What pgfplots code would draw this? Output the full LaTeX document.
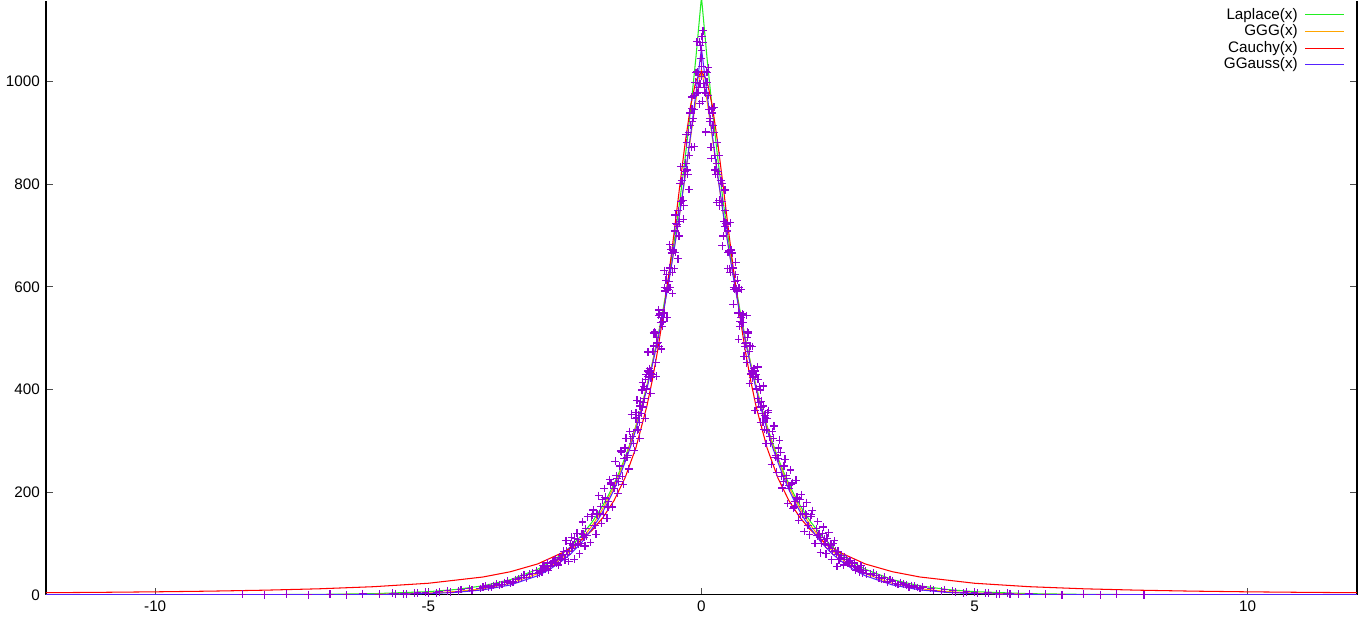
\documentclass[border=0pt]{standalone}
\usepackage{fontspec}
\setmainfont{Liberation Sans}
\usepackage{pgfplots}
\usepackage{pgfplotstable}
\pgfplotsset{compat=1.18}
\definecolor{gpviolet}{HTML}{9400D3}
\definecolor{gpgreen}{HTML}{22EE22}
\definecolor{gporange}{HTML}{FFA500}
\definecolor{gpred}{HTML}{FF0000}
\definecolor{gpblue}{HTML}{5522FF}

% histogram counts (scatter)
\pgfplotstableread{
x y
0.00 1060
0.05 979
0.10 999
0.15 922
0.20 939
0.25 828
0.30 819
0.35 807
0.40 699
0.45 724
0.50 670
0.55 673
0.60 595
0.65 592
0.70 523
0.75 547
0.80 489
0.85 512
0.90 431
0.95 433
1.00 429
1.05 374
1.10 377
1.15 322
1.20 343
1.25 308
1.30 318
1.35 268
1.40 266
1.45 277
1.50 220
1.55 232
1.60 213
1.65 216
1.70 171
1.75 190
1.80 185
1.85 158
1.90 158
1.95 135
2.00 152
-0.05 989
-0.10 1018
-0.15 928
-0.20 915
-0.25 819
-0.30 825
-0.35 807
-0.40 727
-0.45 721
-0.50 636
-0.55 666
-0.60 610
-0.65 613
-0.70 533
-0.75 531
-0.80 491
-0.85 510
-0.90 429
-0.95 441
-1.00 401
-1.05 406
-1.10 354
-1.15 350
-1.20 355
-1.25 295
-1.30 305
-1.35 271
-1.40 286
-1.45 231
-1.50 251
-1.55 226
-1.60 207
-1.65 219
-1.70 181
-1.75 187
-1.80 156
-1.85 172
-1.90 156
-1.95 135
-2.00 156
0.025 1077
0.075 978
0.125 973
0.175 872
0.225 901
0.275 841
0.325 769
0.375 802
0.425 717
0.475 709
0.525 628
0.575 637
0.625 624
0.675 549
0.725 540
0.775 545
0.825 452
0.875 474
0.925 436
0.975 436
1.025 382
1.075 399
1.125 336
1.175 345
-0.025 996
-0.075 1019
-0.125 945
-0.175 947
-0.225 856
-0.275 881
-0.325 758
-0.375 767
-0.425 749
-0.475 667
-0.525 672
-0.575 599
-0.625 597
-0.675 599
-0.725 531
-0.775 484
-0.825 502
-0.875 485
-0.925 423
-0.975 426
-1.025 420
-1.075 366
-1.125 368
-1.175 321
0.062 989
0.112 1018
0.162 928
0.212 915
0.262 819
0.312 825
0.362 807
0.412 727
0.462 721
0.512 636
0.562 666
0.612 610
0.662 613
0.712 533
0.762 531
0.812 491
0.862 510
0.912 429
0.962 441
1.012 401
1.062 406
1.112 354
1.162 350
1.212 355
1.262 295
1.312 305
1.362 271
1.412 286
1.462 231
1.512 251
1.562 226
1.612 207
1.662 219
1.712 181
1.762 187
1.812 156
1.862 172
1.912 156
1.962 135
2.012 156
-0.062 979
-0.112 999
-0.162 922
-0.212 939
-0.262 828
-0.312 819
-0.362 807
-0.412 699
-0.462 724
-0.512 670
-0.562 673
-0.612 595
-0.662 592
-0.712 523
-0.762 547
-0.812 489
-0.862 512
-0.912 431
-0.962 433
-1.012 429
-1.062 374
-1.112 377
-1.162 322
-1.212 343
-1.262 308
-1.312 318
-1.362 268
-1.412 266
-1.462 277
-1.512 220
-1.562 232
-1.612 213
-1.662 216
-1.712 171
-1.762 190
-1.812 185
-1.862 158
-1.912 158
-1.962 135
-2.012 152
0.037 996
0.087 1019
0.137 945
0.187 947
0.237 856
0.287 881
0.337 758
0.387 767
0.437 749
0.487 667
0.537 672
0.587 599
0.637 597
0.687 599
0.737 531
0.787 484
0.837 502
0.887 485
0.937 423
0.987 426
1.037 420
1.087 366
1.137 368
1.187 321
-0.037 1077
-0.087 978
-0.137 973
-0.187 872
-0.237 901
-0.287 841
-0.337 769
-0.387 802
-0.437 717
-0.487 709
-0.537 628
-0.587 637
-0.637 624
-0.687 549
-0.737 540
-0.787 545
-0.837 452
-0.887 474
-0.937 436
-0.987 436
-1.037 382
-1.087 399
-1.137 336
-1.187 345
0.03 1099
0.08 902
0.13 1027
0.18 850
0.23 950
0.28 765
0.33 856
0.38 680
0.43 789
0.48 636
0.53 725
0.58 566
0.63 648
0.68 498
0.73 595
0.78 465
0.83 544
0.88 412
0.93 484
0.98 359
1.03 444
1.08 336
1.13 407
1.18 295
1.23 359
1.28 254
1.33 329
1.38 239
1.43 301
1.48 208
1.53 264
1.58 178
1.63 243
1.68 168
1.73 223
1.78 145
1.83 195
1.88 123
1.93 180
1.98 117
2.03 164
2.08 100
2.13 143
2.18 82
2.23 132
2.28 80
2.33 121
2.38 68
2.43 105
2.48 55
-0.03 957
-0.08 1078
-0.13 873
-0.18 970
-0.23 790
-0.28 897
-0.33 732
-0.38 834
-0.43 655
-0.48 740
-0.53 587
-0.58 682
-0.63 540
-0.68 632
-0.73 479
-0.78 555
-0.83 426
-0.88 510
-0.93 392
-0.98 473
-1.03 344
-1.08 414
-1.13 305
-1.18 379
-1.23 281
-1.28 352
-1.33 245
-1.38 305
-1.43 215
-1.48 280
-1.53 198
-1.58 260
-1.63 171
-1.68 224
-1.73 149
-1.78 207
-1.83 139
-1.88 193
-1.93 118
-1.98 165
-2.03 102
-2.08 152
-2.13 95
-2.18 142
-2.23 80
-2.28 120
-2.33 69
-2.38 112
-2.43 65
-2.48 105
0.000 1010
0.010 1088
-0.010 1045
0.015 962
-0.015 1070
0.005 1030
2.10 129
2.15 118
2.20 100
2.25 108
2.30 110
2.35 90
2.40 85
2.45 86
2.50 85
2.55 71
2.60 58
2.65 69
2.70 64
2.75 56
2.80 62
2.85 54
2.90 45
2.95 43
3.00 47
-2.10 115
-2.15 112
-2.20 119
-2.25 99
-2.30 96
-2.35 97
-2.40 100
-2.45 79
-2.50 68
-2.55 77
-2.60 73
-2.65 62
-2.70 67
-2.75 61
-2.80 48
-2.85 50
-2.90 57
-2.95 48
-3.00 41
2.12 115
2.17 112
2.22 119
2.27 99
2.32 96
2.37 97
2.42 100
2.47 79
2.52 68
2.57 77
2.62 73
2.67 62
2.72 67
2.77 61
2.82 48
2.87 50
2.92 57
2.97 48
3.02 41
-2.12 129
-2.17 118
-2.22 100
-2.27 108
-2.32 110
-2.37 90
-2.42 85
-2.47 86
-2.52 85
-2.57 71
-2.62 58
-2.67 69
-2.72 64
-2.77 56
-2.82 62
-2.87 54
-2.92 45
-2.97 43
-3.02 47
3.1 40
3.2 38
3.3 31
3.4 25
3.5 27
3.6 20
3.7 21
3.8 15
3.9 17
4.0 12
4.2 12
4.4 7
4.6 8
4.8 4
5.0 5
5.2 3
5.4 2
5.6 3
5.8 1
6.0 2
6.3 1
6.6 0
7.0 1
7.3 0
7.6 1
8.1 0
-3.1 42
-3.2 33
-3.3 34
-3.4 30
-3.5 22
-3.6 24
-3.7 19
-3.8 18
-3.9 14
-4.0 15
-4.2 9
-4.4 10
-4.6 5
-4.8 6
-5.0 3
-5.2 4
-5.4 1
-5.6 2
-5.9 1
-6.2 2
-6.5 0
-6.8 1
-7.2 0
-7.6 1
-8.0 0
-8.4 1
3.15 42
3.25 33
3.35 34
3.45 30
3.55 22
3.65 24
3.75 19
3.85 18
3.95 14
4.05 15
4.25 9
4.45 10
4.65 5
4.85 6
5.05 3
5.25 4
5.45 1
5.65 2
-3.15 40
-3.25 38
-3.35 31
-3.45 25
-3.55 27
-3.65 20
-3.75 21
-3.85 15
-3.95 17
-4.05 12
-4.25 12
-4.45 7
-4.65 8
-4.85 4
-5.05 5
-5.25 3
-5.45 2
-5.65 3
}\histdata

\pgfplotstableread{
x y
-12 0.004
-10 0.03
-8 0.26
-7 0.74
-6 2.11
-5 6.04
-4.5 10.2
-4 17.3
-3.5 29.3
-3 49.6
-2.8 61.2
-2.6 75.5
-2.4 93.2
-2.2 115.0
-2.0 141.9
-1.9 157.7
-1.8 175.2
-1.7 194.6
-1.6 216.2
-1.5 240.2
-1.4 266.9
-1.3 296.5
-1.2 329.4
-1.1 366.0
-1.0 406.6
-0.9 451.7
-0.8 501.9
-0.7 557.6
-0.6 619.5
-0.5 688.2
-0.4 764.6
-0.3 849.5
-0.2 943.8
-0.1 1048.6
0 1165
0.1 1048.6
0.2 943.8
0.3 849.5
0.4 764.6
0.5 688.2
0.6 619.5
0.7 557.6
0.8 501.9
0.9 451.7
1.0 406.6
1.1 366.0
1.2 329.4
1.3 296.5
1.4 266.9
1.5 240.2
1.6 216.2
1.7 194.6
1.8 175.2
1.9 157.7
2.0 141.9
2.2 115.0
2.4 93.2
2.6 75.5
2.8 61.2
3 49.6
3.5 29.3
4 17.3
4.5 10.2
5 6.04
6 2.11
7 0.74
8 0.26
10 0.03
12 0.004
}\laplacedata

\pgfplotstableread{
x y
-12 0
-10 0
-8 0.05
-7 0.2
-6 0.9
-5 3.2
-4.5 6.2
-4 11.8
-3.5 22
-3 41
-2.8 53
-2.6 67
-2.4 85
-2.2 107
-2.0 135
-1.9 151
-1.8 169
-1.7 189
-1.6 211
-1.5 236
-1.4 263
-1.3 293
-1.2 327
-1.1 364
-1.0 405
-0.9 450
-0.8 499
-0.7 553
-0.6 611
-0.5 674
-0.4 742
-0.3 814
-0.2 890
-0.1 965
0 1025
0.1 965
0.2 890
0.3 814
0.4 742
0.5 674
0.6 611
0.7 553
0.8 499
0.9 450
1.0 405
1.1 364
1.2 327
1.3 293
1.4 263
1.5 236
1.6 211
1.7 189
1.8 169
1.9 151
2.0 135
2.2 107
2.4 85
2.6 67
2.8 53
3 41
3.5 22
4 11.8
4.5 6.2
5 3.2
6 0.9
7 0.2
8 0.05
10 0
12 0
}\gggdata

\pgfplotstableread{
x y
-12 3.97
-11 4.72
-10 5.7
-9 7.03
-8 8.9
-7 11.6
-6 15.7
-5 22.4
-4 34.6
-3.5 44.8
-3 60.0
-2.5 84.2
-2.25 102.0
-2.0 125.8
-1.8 150.9
-1.6 183.7
-1.4 227.5
-1.2 286.5
-1.0 367.2
-0.9 418.0
-0.8 477.1
-0.7 545.1
-0.6 622.0
-0.5 706.2
-0.4 794.1
-0.3 879.3
-0.2 952.3
-0.1 1002.2
0 1020
0.1 1002.2
0.2 952.3
0.3 879.3
0.4 794.1
0.5 706.2
0.6 622.0
0.7 545.1
0.8 477.1
0.9 418.0
1.0 367.2
1.2 286.5
1.4 227.5
1.6 183.7
1.8 150.9
2.0 125.8
2.25 102.0
2.5 84.2
3 60.0
3.5 44.8
4 34.6
5 22.4
6 15.7
7 11.6
8 8.9
9 7.03
10 5.7
11 4.72
12 3.97
}\cauchydata

\pgfplotstableread{
x y
-12 0
-10 0
-8 0
-7 0.1
-6 0.5
-5 2.2
-4.5 4.6
-4 9.5
-3.5 19
-3 37
-2.8 48
-2.6 62
-2.4 79
-2.2 101
-2.0 129
-1.9 145
-1.8 163
-1.7 183
-1.6 205
-1.5 230
-1.4 258
-1.3 288
-1.2 322
-1.1 360
-1.0 401
-0.9 447
-0.8 496
-0.7 550
-0.6 609
-0.5 673
-0.4 742
-0.3 816
-0.2 895
-0.1 978
0 1065
0.1 978
0.2 895
0.3 816
0.4 742
0.5 673
0.6 609
0.7 550
0.8 496
0.9 447
1.0 401
1.1 360
1.2 322
1.3 288
1.4 258
1.5 230
1.6 205
1.7 183
1.8 163
1.9 145
2.0 129
2.2 101
2.4 79
2.6 62
2.8 48
3 37
3.5 19
4 9.5
4.5 4.6
5 2.2
6 0.5
7 0.1
8 0
10 0
12 0
}\ggaussdata

\begin{document}
\begin{tikzpicture}
  \begin{axis}[
    scale only axis, width=748pt, height=339pt,
    xmin=-12, xmax=12, ymin=0, ymax=1158,
    axis x line*=bottom, axis y line*=box,
    xtick={-10,-5,0,5,10}, ytick={0,200,...,1000},
    ytick pos=both, yticklabel pos=left,
    tick align=inside, major tick length=4pt,
    tick style={black!70, line width=0.5pt},
    axis line style={black, line width=0.7pt},
    /pgf/number format/assume math mode=true,
    /pgf/number format/1000 sep={},
    tick label style={font=\fontsize{8.7}{10}\selectfont},
    legend style={at={(1,1)}, anchor=north east, xshift=-4pt, yshift=-1pt,
      draw=none, fill=none, font=\fontsize{8.7}{9}\selectfont,
      row sep=-0.3pt, column sep=3pt, nodes={inner sep=1pt}},
    legend cell align=right,
    legend plot pos=right,
    legend image code/.code={\draw[#1, mark=none] (0pt,0pt) -- (22pt,0pt);},
  ]
    \addplot[only marks, mark=+, mark size=2.2pt, color=gpviolet, draw=gpviolet,
      mark options={solid, draw=gpviolet, line width=0.7pt}, forget plot]
      table[x=x, y=y] {\histdata};
    \addplot[gpgreen, no marks, line width=0.6pt] table[x=x, y=y] {\laplacedata};
    \addplot[gporange, no marks, line width=0.6pt] table[x=x, y=y] {\gggdata};
    \addplot[gpred, no marks, line width=0.6pt] table[x=x, y=y] {\cauchydata};
    \addplot[gpblue, no marks, line width=0.6pt] table[x=x, y=y] {\ggaussdata};
    \legend{Laplace(x), GGG(x), Cauchy(x), GGauss(x)}
  \end{axis}
  \path (current axis.south east) ++(4.6pt,-17.7pt);
\end{tikzpicture}
\end{document}
